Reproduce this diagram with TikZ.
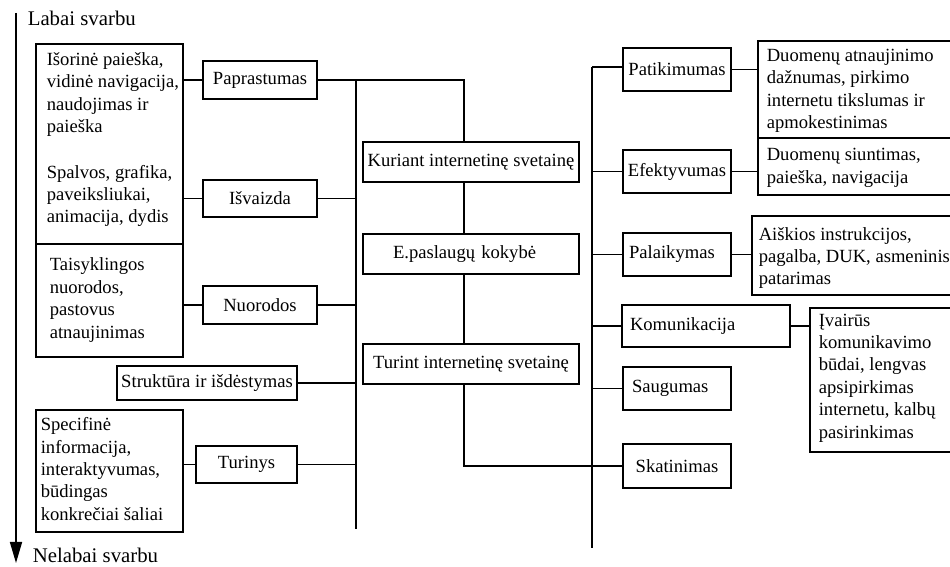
\documentclass[tikz,border=0pt]{standalone}
\usepackage{fontspec}
\setmainfont{Liberation Serif}
\usetikzlibrary{arrows.meta}
\newcommand\dfont{\fontsize{9.3pt}{11.2pt}\selectfont}
\newcommand\lfont{\fontsize{10.4pt}{12pt}\selectfont}
\newcommand\bx[7][]{\node[box,minimum width={(#5-#3)*0.5pt},minimum height={(#6-#4)*0.5pt},#1] (#2) at ({(#3+#5)/2},{(#4+#6)/2}) {#7};}
\begin{document}
\begin{tikzpicture}[x=0.5pt,y=-0.5pt,line width=0.8pt,
  box/.style={draw,rectangle,inner sep=0pt,font=\dfont},
  txt/.style={anchor=west,align=left,inner sep=0pt,font=\dfont},
  lbl/.style={anchor=base west,inner sep=0pt,font=\lfont}]
\useasboundingbox (0,0) rectangle (950,567);
% left boxes
\bx{lbA}{36}{44}{183}{244}{}
\bx{lbB}{36}{244}{183}{357}{}
\bx{spec}{36}{410}{183}{532}{}
\bx{pap}{203}{61}{317}{99}{Paprastumas}
\bx{isv}{203}{180}{317}{217}{Išvaizda}
\bx{nuo}{203}{286}{317}{324}{Nuorodos}
\bx{str}{117}{366}{297}{400}{Struktūra ir išdėstymas}
\bx{tur}{196}{446}{297}{483}{Turinys}
% centre
\bx{kur}{363}{142}{579}{182}{Kuriant internetinę svetainę}
\bx[align=left,text width=78pt,inner xsep=15pt]{eps}{363}{234}{579}{274}{E.paslaugų kokybė}
\bx{tis}{363}{344}{579}{384}{Turint internetinę svetainę}
% right
\bx{pat}{623}{48}{731}{91}{Patikimumas}
\bx{efe}{623}{150}{731}{193}{Efektyvumas}
\bx[align=left,text width=48pt,inner xsep=3pt]{pal}{623}{233}{731}{276}{Palaikymas}
\bx[align=left,text width=76pt,inner xsep=4pt]{kom}{622}{305}{790}{347}{Komunikacija}
\bx[align=left,text width=45pt,inner xsep=4.5pt]{sau}{623}{367}{731}{410}{Saugumas}
\bx{ska}{623}{444}{731}{488}{Skatinimas}
\bx{dA}{758}{41}{960}{138}{}
\bx{dB}{758}{138}{960}{195}{}
\bx{aik}{752}{216}{960}{295}{}
\bx{iva}{810}{308}{960}{452}{}
% texts
\node[txt] (tA) at (46,94.5) {Išorinė paieška,\\vidinė navigacija,\\naudojimas ir\\paieška};
\node[txt] (tB) at (46,196) {Spalvos, grafika,\\paveiksliukai,\\animacija, dydis};
\node[txt] (tC) at (49,300) {Taisyklingos\\nuorodos,\\pastovus\\atnaujinimas};
\node[txt] (tD) at (40,469) {Specifinė\\informacija,\\interaktyvumas,\\būdingas\\konkrečiai šaliai};
\node[txt] (tE) at (766,91) {Duomenų atnaujinimo\\dažnumas, pirkimo\\internetu tikslumas ir\\apmokestinimas};
\node[txt] (tF) at (766,168) {Duomenų siuntimas,\\paieška, navigacija};
\node[txt] (tG) at (758,258) {Aiškios instrukcijos,\\pagalba, DUK, asmeninis\\patarimas};
\node[txt] (tH) at (818,378) {Įvairūs\\komunikavimo\\būdai, lengvas\\apsipirkimas\\internetu, kalbų\\pasirinkimas};
% axis
\coordinate (aT) at (16,13);
\coordinate (aB) at (16,563);
\draw[-{Triangle[width=6pt,length=10.5pt]}] (aT) -- (aB);
\node[lbl] (lab1) at (27,26) {Labai svarbu};
\node[lbl] (lab2) at (32,562) {Nelabai svarbu};
% left connectors
\coordinate (lvT) at (356,80);
\coordinate (lvB) at (356,529);
\draw (lvT) -- (lvB);
\draw (pap.west) -- (pap.west -| lbA.east);
\draw (isv.west) -- (isv.west -| lbA.east);
\draw (isv.east) -- (isv.east -| lvT);
\draw (nuo.west) -- (nuo.west -| lbB.east);
\draw (nuo.east) -- (nuo.east -| lvT);
\draw (str.east) -- (str.east -| lvT);
\draw (tur.east) -- (tur.east -| lvT);
\draw (tur.west) -- (tur.west -| spec.east);
% centre connectors
\coordinate (cvT) at (464,80);
\draw (pap.east) -- (cvT) -- (cvT |- kur.north);
\draw (cvT |- kur.south) -- (cvT |- eps.north);
\draw (cvT |- eps.south) -- (cvT |- tis.north);
\draw (cvT |- tis.south) -- (cvT |- ska.west) -- (ska.west);
% right connectors
\coordinate (rvT) at (592,67);
\coordinate (rvB) at (592,548);
\draw (rvT) -- (rvB);
\draw (rvT) -- (rvT -| pat.west);
\draw (efe.west -| rvT) -- (efe.west);
\draw (pal.west -| rvT) -- (pal.west);
\draw (kom.west -| rvT) -- (kom.west);
\draw (sau.west -| rvT) -- (sau.west);
\draw (pat.east) -- (pat.east -| dA.west);
\draw (efe.east) -- (efe.east -| dB.west);
\draw (pal.east) -- (pal.east -| aik.west);
\draw (kom.east) -- (kom.east -| iva.west);
\end{tikzpicture}
\end{document}
